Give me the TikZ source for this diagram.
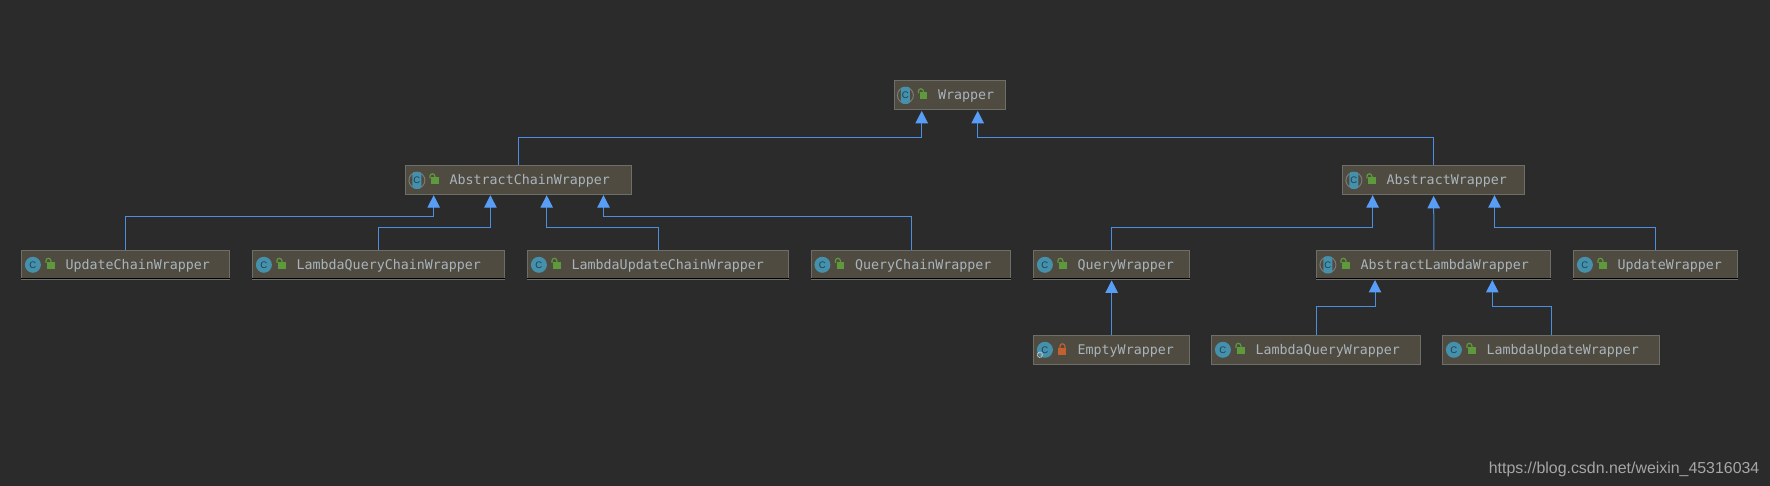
\documentclass[tikz,border=0pt]{standalone}
\usepackage{fontspec}
\setmonofont{DejaVu Sans Mono}
\setsansfont{Liberation Sans}
\usetikzlibrary{arrows.meta,calc}
\definecolor{bg}{HTML}{2B2B2B}
\definecolor{boxfill}{HTML}{4F4B41}
\definecolor{boxedge}{HTML}{6E6E68}
\definecolor{boxtext}{HTML}{AAB4BC}
\definecolor{linkblue}{HTML}{4A8FE0}
\definecolor{tipblue}{HTML}{589DF6}
\definecolor{iconteal}{HTML}{4590AB}
\definecolor{icondark}{HTML}{1D3F55}
\definecolor{lockgreen}{HTML}{5E9A3C}
\definecolor{lockred}{HTML}{C2602E}
\definecolor{ringgrey}{HTML}{7A7A76}
\definecolor{marktext}{HTML}{A6A6A6}
\tikzset{
  clsbox/.style={draw=boxedge,fill=boxfill,line width=1pt,inner xsep=0pt,inner ysep=0pt,
    minimum height=29pt,align=left,text height=11pt,text depth=2pt,text=boxtext,
    font=\ttfamily\fontsize{13.3}{15}\selectfont},
  inh/.style={draw=linkblue,line width=1pt,-{Triangle[length=12.5pt,width=12.5pt,fill=tipblue,color=tipblue]}},
  cletter/.style={inner sep=0pt,text=icondark,font=\sffamily\fontsize{9.5}{10}\selectfont},
  baseline/.style={draw=black,line width=1pt}
}
% name, left, right, top, label
\newcommand\clsbox[5]{%
  \pgfmathsetmacro\bw{#3-#2}%
  \pgfmathsetmacro\bx{(#2+#3)/2+0.4}%
  \pgfmathsetmacro\by{#4+14.5+0.8}%
  \node[clsbox,text width=\bw pt] (#1) at (\bx,\by) {\hspace*{43.8pt}#5};
}
\newcommand\plainicon[1]{%
  \fill[iconteal] ($(#1.west)+(11.5,0)$) circle (8pt);
  \node[cletter] (#1-c) at ($(#1.west)+(11.5,0)$) {C};
}
\newcommand\abstracticon[1]{%
  \draw[ringgrey,line width=1pt] ($(#1.west)+(11.5,0)$) circle (8pt);
  \fill[iconteal,rounded corners=2.5pt] ($(#1.west)+(7,-8.5)$) rectangle ($(#1.west)+(16,8.5)$);
  \node[cletter] (#1-c) at ($(#1.west)+(11.5,0)$) {C};
}
\newcommand\openlock[1]{%
  \fill[lockgreen] ($(#1.west)+(26,-3)$) rectangle ($(#1.west)+(33.5,4)$);
  \draw[lockgreen,line width=1.2pt] ($(#1.west)+(24.5,-2)$) -- ($(#1.west)+(24.5,-4)$) arc[start angle=180,end angle=0,radius=2.5pt] -- ($(#1.west)+(29.5,-3)$);
}
\newcommand\closedlock[1]{%
  \fill[lockred] ($(#1.west)+(25,-2)$) rectangle ($(#1.west)+(33,5)$);
  \draw[lockred,line width=1.2pt] ($(#1.west)+(26.5,-2)$) -- ($(#1.west)+(26.5,-3.5)$) arc[start angle=180,end angle=0,radius=2.5pt] -- ($(#1.west)+(31.5,-2)$);
}
\begin{document}
\begin{tikzpicture}[x=1pt,y=-1pt]
\useasboundingbox (0,0) rectangle (1770,486);
\fill[bg] (0,0) rectangle (1770,486);

\clsbox{wr}{894}{1005}{80}{Wrapper}
\clsbox{acw}{405.5}{631}{165}{AbstractChainWrapper}
\clsbox{aw}{1342.5}{1524}{165}{AbstractWrapper}
\clsbox{ucw}{21.5}{229.5}{249.5}{UpdateChainWrapper}
\clsbox{lqcw}{252.5}{504.5}{249.5}{LambdaQueryChainWrapper}
\clsbox{lucw}{527.5}{788}{249.5}{LambdaUpdateChainWrapper}
\clsbox{qcw}{811}{1010.5}{249.5}{QueryChainWrapper}
\clsbox{qw}{1033.5}{1189}{249.5}{QueryWrapper}
\clsbox{alw}{1316.5}{1550.5}{249.5}{AbstractLambdaWrapper}
\clsbox{uw}{1573.5}{1737.5}{249.5}{UpdateWrapper}
\clsbox{ew}{1033.5}{1189}{334.5}{EmptyWrapper}
\clsbox{lqw}{1211.5}{1420}{334.5}{LambdaQueryWrapper}
\clsbox{luw}{1442.5}{1659.5}{334.5}{LambdaUpdateWrapper}

\foreach \n in {ucw,lqcw,lucw,qcw,qw,alw,uw}
  \draw[baseline] ($(\n.south west)+(0,-1)$) -- ($(\n.south east)+(0,-1)$);

\plainicon{ucw}\plainicon{lqcw}\plainicon{lucw}\plainicon{qcw}\plainicon{qw}\plainicon{uw}
\plainicon{ew}\plainicon{lqw}\plainicon{luw}
\abstracticon{wr}\abstracticon{acw}\abstracticon{aw}\abstracticon{alw}
\foreach \n in {wr,acw,aw,ucw,lqcw,lucw,qcw,qw,alw,uw,lqw,luw} {\openlock{\n}}
\closedlock{ew}
% small gear on the EmptyWrapper icon
\draw[boxtext!80,line width=1.2pt,dash pattern=on 1pt off .6pt] ($(ew.west)+(6.5,5)$) circle (2.6pt);

% arrow tips and elbows
\coordinate (wrA) at (921.7,110.9);   \coordinate (wrAe) at (921.7,137.3);
\coordinate (wrB) at (977.7,110.9);   \coordinate (wrBe) at (977.7,137.3);
\coordinate (acw1) at (433.7,195.2);  \coordinate (acw1e) at (433.7,217);
\coordinate (acw2) at (490.4,195.2);  \coordinate (acw2e) at (490.4,227.5);
\coordinate (acw3) at (546.7,195.2);  \coordinate (acw3e) at (546.7,227.5);
\coordinate (acw4) at (603.5,195.2);  \coordinate (acw4e) at (603.5,217);
\coordinate (aw1) at (1372.6,195.2);  \coordinate (aw1e) at (1372.6,227.5);
\coordinate (aw3) at (1494.5,195.2);  \coordinate (aw3e) at (1494.5,227.5);
\coordinate (alw1) at (1375,280);     \coordinate (alw1e) at (1375,306.5);
\coordinate (alw2) at (1492.3,280);   \coordinate (alw2e) at (1492.3,306.5);

\draw[inh] (acw.north) |- (wrAe) -- (wrA);
\draw[inh] (aw.north) |- (wrBe) -- (wrB);
\draw[inh] (ucw.north) |- (acw1e) -- (acw1);
\draw[inh] (lqcw.north) |- (acw2e) -- (acw2);
\draw[inh] (lucw.north) |- (acw3e) -- (acw3);
\draw[inh] (qcw.north) |- (acw4e) -- (acw4);
\draw[inh] (qw.north) |- (aw1e) -- (aw1);
\draw[inh] (alw.north) -- ([yshift=-0.6pt]aw.south);
\draw[inh] (uw.north) |- (aw3e) -- (aw3);
\draw[inh] (ew.north) -- ([yshift=-0.6pt]qw.south);
\draw[inh] (lqw.north) |- (alw1e) -- (alw1);
\draw[inh] (luw.north) |- (alw2e) -- (alw2);

\node[anchor=base east,inner sep=0pt,text=marktext,font=\sffamily\fontsize{15.9}{18}\selectfont] (mark) at (1759.5,473.5) {https://blog.csdn.net/weixin\_45316034};
\end{tikzpicture}
\end{document}
